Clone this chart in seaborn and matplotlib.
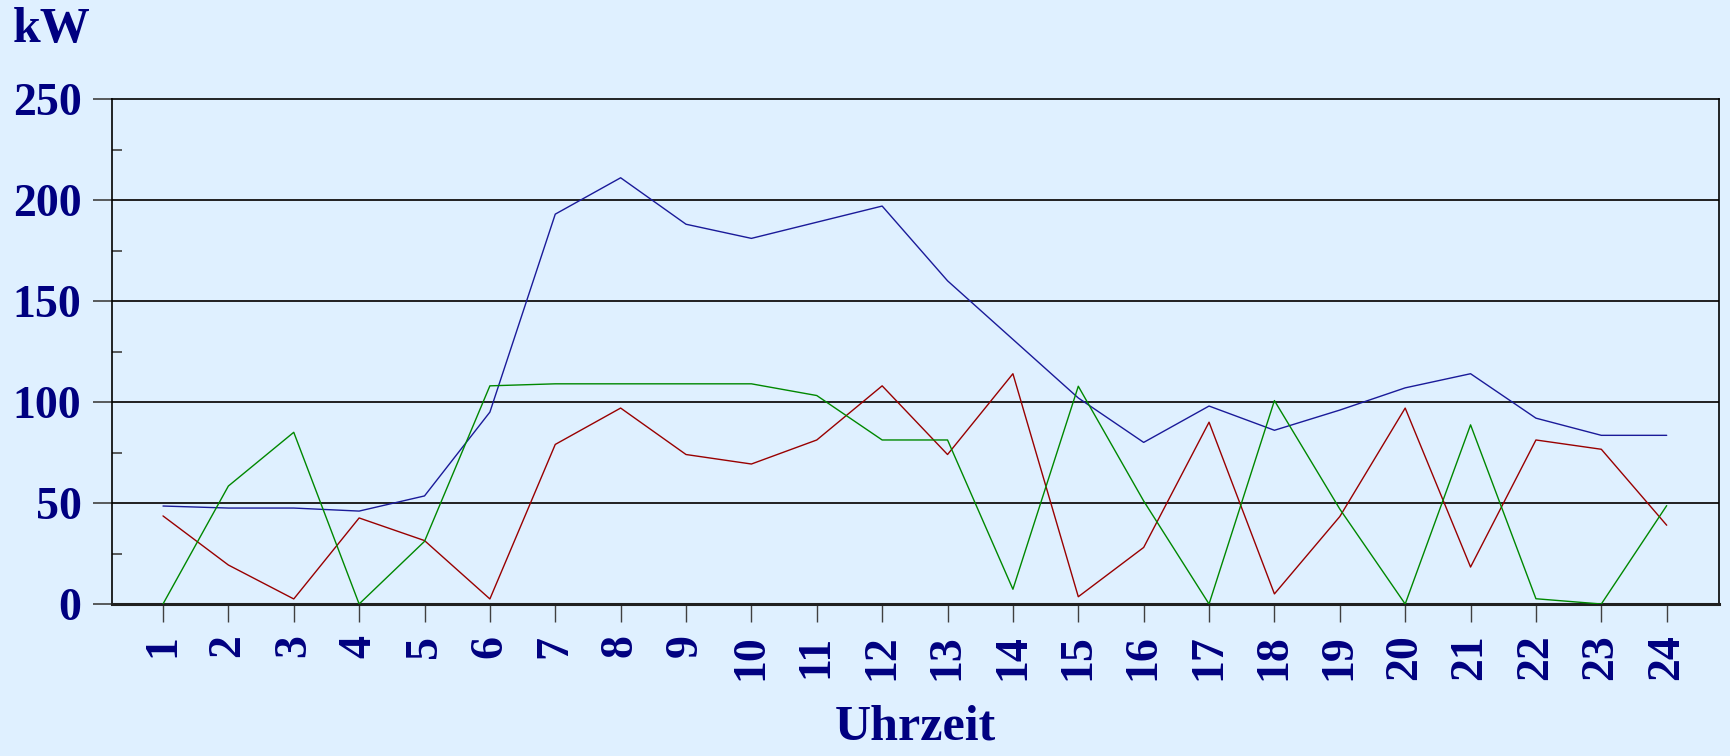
import numpy as np, pandas as pd
import matplotlib
matplotlib.use("Agg")
import matplotlib.pyplot as plt
from matplotlib.ticker import MultipleLocator
import seaborn as sns

# Stunden und Leistungswerte (kW)
hours = list(range(1, 25))
blue_kw = [48.5, 47.5, 47.5, 46, 53.5, 95, 193, 211, 188, 181, 189, 197,
           160, 131, 102, 80, 98, 86, 96, 107, 114, 92, 83.5, 83.5]
red_kw = [43.6, 19.3, 2.5, 42.6, 31.4, 2.5, 79, 97, 74, 69.3, 81.2, 108,
          74, 114, 3.6, 28, 90, 5, 43.3, 97, 18.3, 81.2, 76.6, 39]
green_kw = [0, 58.4, 85, 0, 31, 108, 109, 109, 109, 109, 103.2, 81.2,
            81.2, 7.3, 107.8, 51, 0, 100.7, 47, 0, 88.7, 2.6, 0, 48.7]

BG = "#DFF0FF"
NAVY = "#000080"

sns.set_style("white")
plt.rcParams['font.family'] = ['Liberation Serif', 'DejaVu Serif']
plt.rcParams['font.weight'] = 'bold'

fig = plt.figure(figsize=(17.30, 7.56), dpi=100, facecolor=BG)
ax = fig.add_axes([112/1730, 1 - 604/756, (1719-112)/1730, (604-99)/756])
ax.set_facecolor(BG)

# Gitterlinien
for y in [50, 100, 150, 200]:
    ax.axhline(y, color="#202020", lw=1.4, zorder=1)

sns.lineplot(x=hours, y=blue_kw, ax=ax, color="#1a1a99", lw=1.0, zorder=3)
sns.lineplot(x=hours, y=red_kw, ax=ax, color="#990000", lw=1.0, zorder=3)
sns.lineplot(x=hours, y=green_kw, ax=ax, color="#008800", lw=1.0, zorder=3)

ax.set_xlim(0.22, 24.8)
ax.set_ylim(0, 250)
ax.set_xticks(hours)
ax.set_xticklabels([str(h) for h in hours], rotation=90)
ax.yaxis.set_major_locator(MultipleLocator(50))
ax.yaxis.set_minor_locator(MultipleLocator(25))

ax.tick_params(axis='y', which='major', direction='out', length=14, width=1.2,
               color="#404040", pad=8, labelsize=33, labelcolor=NAVY, left=True)
ax.tick_params(axis='y', which='minor', direction='in', length=7, width=1.2,
               color="#404040", left=True)
ax.tick_params(axis='x', which='major', direction='out', length=13, width=1.0,
               color="#404040", pad=9, labelsize=33, labelcolor=NAVY, bottom=True)
for lab in ax.get_xticklabels() + ax.get_yticklabels():
    lab.set_fontweight('bold')

for side in ['top', 'right', 'left']:
    ax.spines[side].set_color("black")
    ax.spines[side].set_linewidth(1.2)
ax.spines['bottom'].set_color("#202020")
ax.spines['bottom'].set_linewidth(2.2)

ax.set_xlabel("Uhrzeit", fontsize=36, fontweight='bold', color=NAVY, labelpad=17)
ax.set_ylabel("")
fig.text(13/1730, 1 - 7/756, "kW", fontsize=36, fontweight='bold', color=NAVY,
         ha='left', va='top')

fig.savefig("out.png", dpi=100, facecolor=BG)
